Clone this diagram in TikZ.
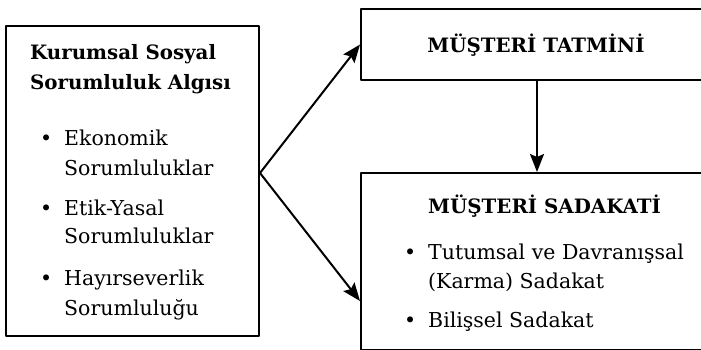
\documentclass[tikz,border=0pt]{standalone}
\usepackage{fontspec}
\setmainfont{DejaVu Serif}
\usetikzlibrary{arrows.meta}

\tikzset{
  kutu/.style={draw,line width=2pt,rectangle,inner sep=0pt,anchor=north west},
  ok/.style={line width=2pt,-{Stealth[length=18pt,width=14pt,inset=3pt]}},
  baslik/.style={anchor=base west,inner sep=0pt,font=\fontsize{19.8}{23}\selectfont\bfseries},
  madde/.style={anchor=base west,inner sep=0pt,font=\fontsize{20.5}{24}\selectfont},
}

\begin{document}
\begin{tikzpicture}[x=1pt,y=-1pt,line cap=round,line join=round]
\useasboundingbox (0,0) rectangle (701,350);
\clip (0,0) rectangle (701,350);
% kutular
\node[kutu,minimum width=253pt,minimum height=310pt] (ksr) at (5,25) {};
\node[kutu,minimum width=352pt,minimum height=71pt] (tatmin) at (360,8) {};
\node[kutu,minimum width=352pt,minimum height=177pt] (sadakat) at (360,172) {};
% sol kutu
\node[baslik] (ksr1) at (30,60) {Kurumsal Sosyal};
\node[baslik] (ksr2) at (30,90) {Sorumluluk Algısı};
\node[madde] (eko1) at (64,146) {\llap{\textbullet\hspace{12pt}}Ekonomik};
\node[madde] (eko2) at (64,175) {Sorumluluklar};
\node[madde] (etk1) at (64,215) {\llap{\textbullet\hspace{12pt}}Etik-Yasal};
\node[madde] (etk2) at (64,243) {Sorumluluklar};
\node[madde] (hay1) at (64,285) {\llap{\textbullet\hspace{12pt}}Hayırseverlik};
\node[madde] (hay2) at (64,315) {Sorumluluğu};
% sag kutular
\node[baslik,anchor=base] (tat) at (536,53) {MÜŞTERİ TATMİNİ};
\node[baslik] (sad) at (428,213) {MÜŞTERİ SADAKATİ};
\node[madde] (tut1) at (428,259) {\llap{\textbullet\hspace{12pt}}Tutumsal ve Davranışsal};
\node[madde] (tut2) at (428,288) {(Karma) Sadakat};
\node[madde] (bil) at (428,327) {\llap{\textbullet\hspace{12pt}}Bilişsel Sadakat};
% oklar
\coordinate (catal) at ([yshift=8pt]ksr.east);
\draw[ok] (catal) -- (tatmin.west);
\draw[ok] (catal) -- ([yshift=-39.5pt]sadakat.west);
\draw[ok] (tatmin.south) -- (sadakat.north);
\end{tikzpicture}
\end{document}
